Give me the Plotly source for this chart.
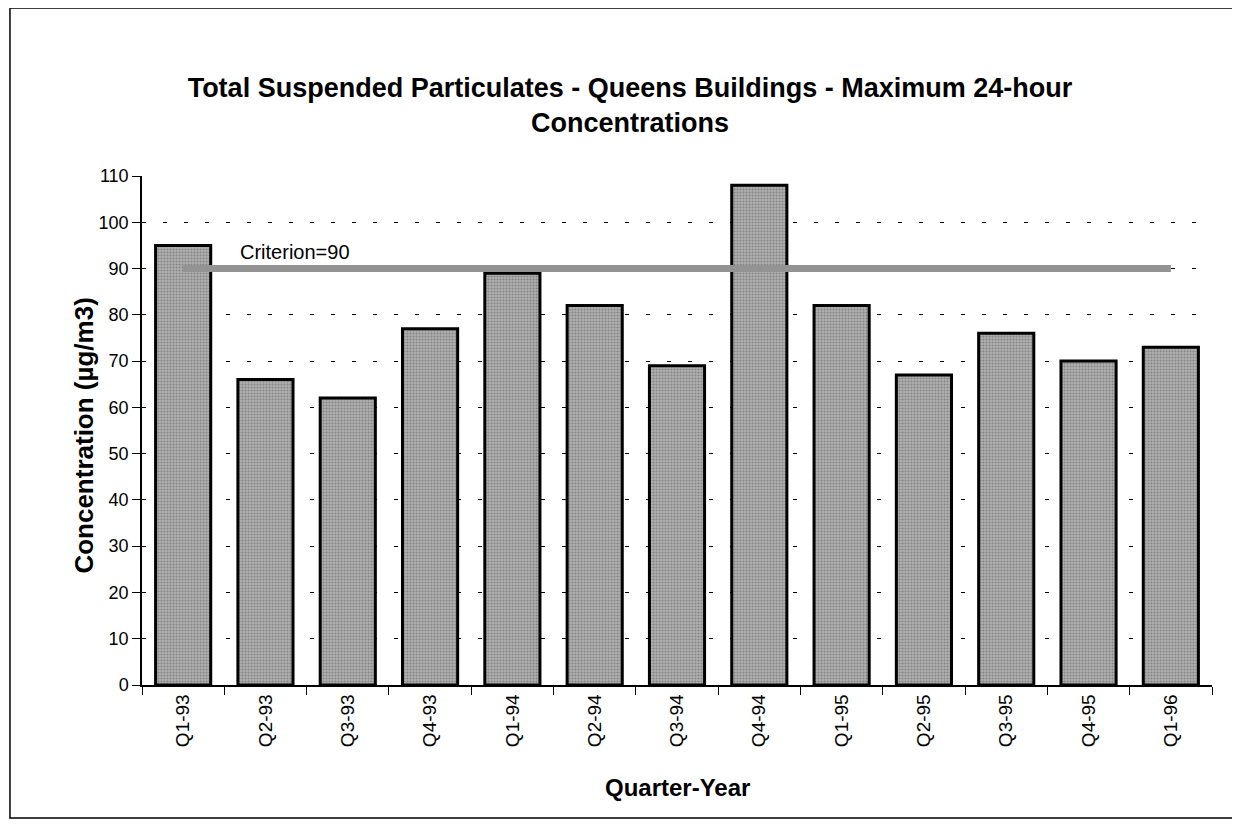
import plotly.graph_objects as go

quarters = ["Q1-93", "Q2-93", "Q3-93", "Q4-93", "Q1-94", "Q2-94", "Q3-94",
            "Q4-94", "Q1-95", "Q2-95", "Q3-95", "Q4-95", "Q1-96"]
max_conc = [95, 66, 62, 77, 89, 82, 69, 108, 82, 67, 76, 70, 73]
criterion = 90

FONT = "Liberation Sans, Arial, sans-serif"

fig = go.Figure()
fig.add_trace(go.Bar(
    x=quarters, y=max_conc,
    marker=dict(color="#a0a0a0", line=dict(color="black", width=3),
                pattern=dict(shape=".", fgcolor="#555555", bgcolor="#b0b0b0",
                             size=3, solidity=0.4)),
    width=0.67, showlegend=False,
))
fig.add_trace(go.Scatter(
    x=quarters, y=[criterion] * len(quarters), mode="lines",
    line=dict(color="#939393", width=7), showlegend=False, hoverinfo="skip",
))

fig.add_annotation(x=quarters[1], y=criterion, text=f"Criterion={criterion}",
                   showarrow=False, yshift=17, xshift=30,
                   font=dict(family=FONT, size=20, color="black"))
# axis titles placed as annotations so they sit where the original has them
fig.add_annotation(xref="paper", yref="paper", x=0.5, y=-0.2004,
                   yanchor="middle", showarrow=False, text="<b>Quarter-Year</b>",
                   font=dict(family=FONT, size=24, color="black"))
fig.add_annotation(xref="paper", yref="paper", x=-0.0542, y=0.49,
                   xanchor="center", yanchor="middle", textangle=-90,
                   showarrow=False, text="<b>Concentration (µg/m3)</b>",
                   font=dict(family=FONT, size=26, color="black"))

# outer frame around the whole chart
fig.add_shape(type="rect", xref="paper", yref="paper", layer="below",
              x0=-0.1234, x1=1.0224, y0=-0.2613, y1=1.330,
              line=dict(color="black", width=1.5))

fig.update_layout(
    width=1240, height=840,
    margin=dict(l=134, r=36, t=168, b=163),
    paper_bgcolor="white", plot_bgcolor="white",
    font=dict(family=FONT, size=18, color="black"),
    title=dict(text="<b>Total Suspended Particulates - Queens Buildings - Maximum 24-hour<br>Concentrations</b>",
               x=0.5016, xanchor="center", y=0.894, yanchor="middle",
               font=dict(family=FONT, size=27, color="black")),
)
fig.update_xaxes(
    tickangle=-90, showline=True, linecolor="black", linewidth=1.5,
    ticks="outside", ticklen=8, tickcolor="black", tickson="boundaries",
    showgrid=False, tickfont=dict(size=19), automargin=False,
)
fig.update_yaxes(
    range=[0, 110], dtick=10, showline=True, linecolor="black", linewidth=1.5,
    ticks="outside", ticklen=8, tickcolor="black",
    showgrid=True, gridcolor="black", gridwidth=1.2, griddash="4px,17px",
    zeroline=False, tickfont=dict(size=18), automargin=False,
)

fig.write_html("out.html")
